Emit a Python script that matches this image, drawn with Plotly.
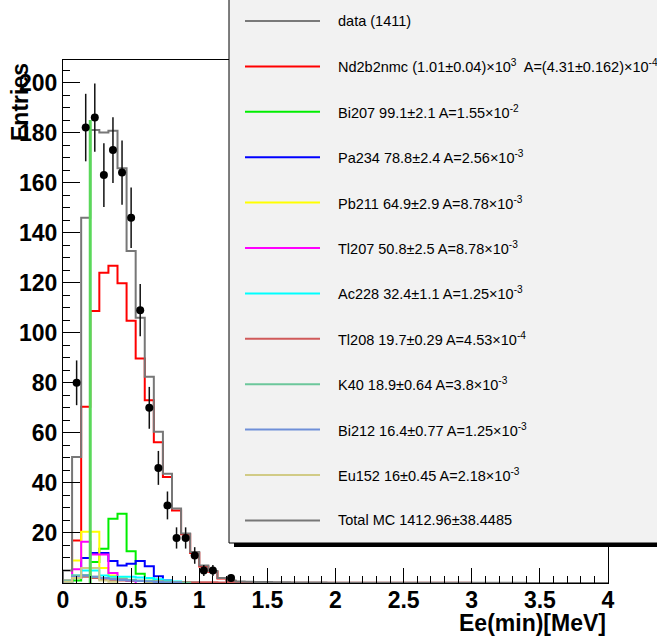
import numpy as np
import plotly.graph_objects as go

# ---------------- data ----------------
N_BINS = 60
E_MIN, E_MAX = 0.0, 4.0

data_counts = [0, 80, 182, 186, 163, 173, 164, 146, 109, 70, 46, 31, 18, 18, 11, 5, 5, 0, 2]

nd2b2nmc = [0, 17, 70.4, 108.7, 124, 126.8, 119.8, 104.8, 89.7, 73, 56.2, 42.4, 29, 19.5, 12, 6.6, 4.5, 1.8, 0.8]
bi207 = [0.5, 1, 3, 8.4, 13.7, 25.7, 27.7, 12.7, 3.7, 1.9, 0.5]
bi207_spike_energy = 0.2
bi207_spike_height = 185
pa234 = [0, 2, 10, 12, 12, 8.8, 7, 7.7, 8.8, 6.7, 2.7, 1]
pb211 = [0.5, 9, 20.5, 20.5, 6, 3, 2, 1, 0.8, 0.5, 0.3]
tl207 = [0.5, 5.5, 16.5, 11.4, 11.4, 4, 1.5, 0.8]
ac228 = [0.5, 3, 5, 5, 3, 2.5, 2.5, 2.5, 2.2, 2, 1.5, 1, 0.6, 0.4, 0.2]
tl208 = [1.0, 2.5, 2.5, 2.0, 1.5, 1.2, 1.0, 0.9, 0.8, 0.7, 0.6, 0.5,
         0.4, 0.35, 0.3, 0.3, 0.25, 0.2, 0.2, 0.2, 0.15, 0.15,
         0.15, 0.12, 0.12, 0.1, 0.1, 0.1, 0.1, 0.1, 0.08, 0.08,
         0.08, 0.08, 0.07, 0.07, 0.07, 0.06, 0.06, 0.06, 0.05, 0.05,
         0.05, 0.05, 0.05, 0.04, 0.04, 0.04, 0.04, 0.03, 0.03, 0.03,
         0.03, 0.02, 0.02, 0.02, 0.02, 0.02, 0.01, 0.01]
k40 = [1, 3, 3, 2.5, 2, 1.8, 1.5, 1.3, 1, 0.8, 0.6, 0.4, 0.3, 0.2]
bi212 = [0.5, 2.5, 3, 2.5, 2, 1.5, 1.2, 1, 0.8, 0.6, 0.4, 0.2, 0.2]
eu152 = [0.5, 2, 6, 6, 1, 0.5]
total_mc = [5, 50.4, 146, 181, 180, 180.7, 165.7, 132.7, 106, 82.4, 60.4, 43.7, 29.8, 19.8, 12.4, 7, 4.8, 2, 1,
            0.6, 0.45, 0.4, 0.35, 0.3, 0.25, 0.2, 0.2, 0.15, 0.15, 0.12, 0.12, 0.1, 0.1, 0.1, 0.1, 0.1, 0.08,
            0.08, 0.08, 0.08, 0.07, 0.07, 0.07, 0.06, 0.06, 0.06, 0.05, 0.05, 0.05, 0.05, 0.05, 0.04, 0.04,
            0.04, 0.04, 0.03, 0.03, 0.03, 0.03, 0.02]

y_tick_values = [20, 40, 60, 80, 100, 120, 140, 160, 180, 200]

legend_labels = [
    "data (1411)",
    "Nd2b2nmc (1.01\u00b10.04)\u00d710<sup>3</sup>  A=(4.31\u00b10.162)\u00d710<sup>-4</sup>",
    "Bi207 99.1\u00b12.1 A=1.55\u00d710<sup>-2</sup>",
    "Pa234 78.8\u00b12.4 A=2.56\u00d710<sup>-3</sup>",
    "Pb211 64.9\u00b12.9 A=8.78\u00d710<sup>-3</sup>",
    "Tl207 50.8\u00b12.5 A=8.78\u00d710<sup>-3</sup>",
    "Ac228 32.4\u00b11.1 A=1.25\u00d710<sup>-3</sup>",
    "Tl208 19.7\u00b10.29 A=4.53\u00d710<sup>-4</sup>",
    "K40 18.9\u00b10.64 A=3.8\u00d710<sup>-3</sup>",
    "Bi212 16.4\u00b10.77 A=1.25\u00d710<sup>-3</sup>",
    "Eu152 16\u00b10.45 A=2.18\u00d710<sup>-3</sup>",
    "Total MC 1412.96\u00b138.4485",
]

x_title = "Ee(min)[MeV]"
y_title = "Entries"

# ---------------- styles ----------------
FONT = "Liberation Sans, Arial, Helvetica, sans-serif"
components = [
    (nd2b2nmc, "#ff0000"),
    (bi207, "#00ee00"),
    (pa234, "#0000ff"),
    (pb211, "#ffff00"),
    (tl207, "#ff00ff"),
    (ac228, "#00ffff"),
    (tl208, "#d05a5a"),
    (k40, "#6cc79b"),
    (bi212, "#6f8fd8"),
    (eu152, "#d1cb86"),
]
TOTAL_COLOR = "#777777"
legend_colors = ["#000000"] + [c for _, c in components] + [TOTAL_COLOR]
legend_widths = [1.2] + [2] * 10 + [2]

edges = np.linspace(E_MIN, E_MAX, N_BINS + 1)
centers = 0.5 * (edges[:-1] + edges[1:])


def step_xy(vals):
    n = len(vals)
    x = [edges[0]] + list(edges[:n]) + [edges[n]]
    y = [0] + list(vals) + [0]
    return x, y


fig = go.Figure()

for vals, col in components:
    x, y = step_xy(vals)
    fig.add_trace(go.Scatter(x=x, y=y, mode="lines", line=dict(color=col, width=2, shape="hv"),
                             showlegend=False, hoverinfo="skip"))

x, y = step_xy(total_mc)
fig.add_trace(go.Scatter(x=x, y=y, mode="lines", line=dict(color=TOTAL_COLOR, width=2, shape="hv"),
                         showlegend=False, hoverinfo="skip"))

fig.add_trace(go.Scatter(x=[bi207_spike_energy, bi207_spike_energy], y=[0, bi207_spike_height],
                         mode="lines", line=dict(color="#5ad85a", width=3),
                         showlegend=False, hoverinfo="skip"))

dc = np.array(data_counts, dtype=float)
mask = dc > 0
fig.add_trace(go.Scatter(
    x=centers[:len(dc)][mask], y=dc[mask], mode="markers",
    marker=dict(color="black", size=8, symbol="circle"),
    error_y=dict(type="data", array=np.sqrt(dc[mask]), width=0, thickness=1.5, color="#111111"),
    showlegend=False, hoverinfo="skip"))

# ---------------- layout ----------------
W, H = 657, 642
L, R, T, B = 63, 49, 60, 59
PW, PH = W - L - R, H - T - B


def px(xp):
    return (xp - L) / PW


def py(yp):
    return (H - B - yp) / PH


shapes = []
annotations = []

# legend shadow + box
shapes.append(dict(type="rect", xref="paper", yref="paper", x0=px(234), x1=px(720), y0=py(547), y1=py(-20),
                   fillcolor="black", line=dict(width=0), layer="above"))
shapes.append(dict(type="rect", xref="paper", yref="paper", x0=px(229), x1=px(715), y0=py(543), y1=py(-25),
                   fillcolor="#f2f2f2", line=dict(color="black", width=1), layer="above"))

y0_leg, dy_leg = 21, 45.4
for i, (lab, col, lw) in enumerate(zip(legend_labels, legend_colors, legend_widths)):
    yc = y0_leg + i * dy_leg
    shapes.append(dict(type="line", xref="paper", yref="paper", x0=px(245), x1=px(320), y0=py(yc), y1=py(yc),
                       line=dict(color=col, width=lw), layer="above"))
    annotations.append(dict(text=lab, xref="paper", yref="paper", x=px(336), y=py(yc), xanchor="left",
                            yanchor="middle", showarrow=False, font=dict(family=FONT, size=14.5, color="black")))

annotations.append(dict(text="<b>%s</b>" % x_title, xref="paper", yref="paper", x=px(608), y=py(623),
                        xanchor="right", yanchor="middle", showarrow=False,
                        font=dict(family=FONT, size=23, color="black")))
annotations.append(dict(text="<b>%s</b>" % y_title, xref="paper", yref="paper", x=px(20), y=py(61),
                        xanchor="center", yanchor="top", textangle=-90, showarrow=False,
                        font=dict(family=FONT, size=23, color="black")))

fig.update_layout(
    width=W, height=H,
    margin=dict(l=L, r=R, t=T, b=B, pad=0),
    paper_bgcolor="white", plot_bgcolor="white",
    showlegend=False,
    shapes=shapes, annotations=annotations,
    xaxis=dict(range=[E_MIN, E_MAX], showgrid=False, zeroline=False, showline=True, linecolor="black",
               linewidth=1, mirror=True, ticks="inside", ticklen=15, tickcolor="black", tickwidth=1,
               dtick=0.5, tick0=0, automargin=False, ticklabelstandoff=-4,
               minor=dict(ticks="inside", ticklen=7, dtick=0.1, tick0=0, tickcolor="black", showgrid=False),
               tickfont=dict(family=FONT, size=23, color="black", weight="bold")),
    yaxis=dict(range=[0, 209], showgrid=False, zeroline=False, showline=True, linecolor="black",
               linewidth=1, mirror=True, ticks="inside", ticklen=17, tickcolor="black", tickwidth=1,
               tickmode="array", tickvals=y_tick_values, automargin=False,
               minor=dict(ticks="inside", ticklen=7, dtick=5, tick0=0, tickmode="linear",
                          tickcolor="black", showgrid=False),
               tickfont=dict(family=FONT, size=23, color="black", weight="bold")),
)

fig.write_html("out.html", config={"displayModeBar": False},
               post_script="document.body.style.margin='0';document.body.style.overflow='hidden';")
